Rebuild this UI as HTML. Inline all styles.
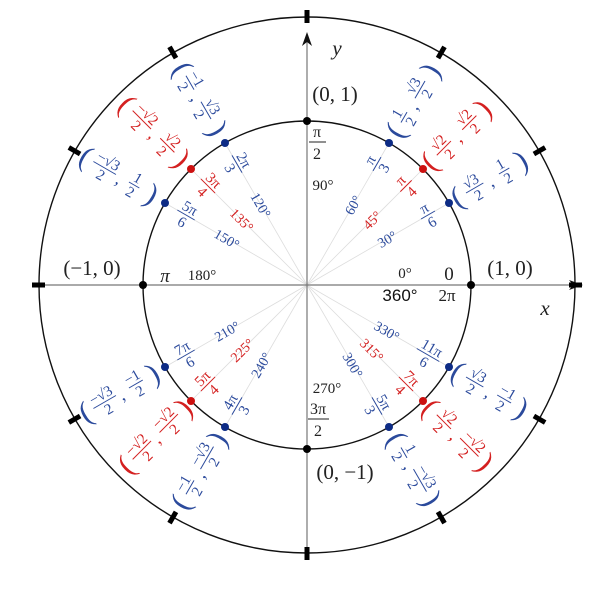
<!DOCTYPE html>
<html><head><meta charset="utf-8"><style>
html,body{margin:0;padding:0;background:#fff}
svg text{font-family:"Liberation Serif",serif;text-anchor:middle}
.b{fill:#2b4a9c}.r{fill:#d42020}.k{fill:#222}
.bl{stroke:#2b4a9c}.rl{stroke:#d42020}
.p{font-size:30px;font-weight:300}
</style></head><body>
<svg width="600" height="600" viewBox="0 0 600 600" xmlns="http://www.w3.org/2000/svg">
<g stroke="#ddd" stroke-width="0.8">
<line x1="307" y1="285" x2="449" y2="203"/><line x1="307" y1="285" x2="423" y2="169"/><line x1="307" y1="285" x2="389" y2="143"/>
<line x1="307" y1="285" x2="225" y2="143"/><line x1="307" y1="285" x2="191" y2="169"/><line x1="307" y1="285" x2="165" y2="203"/>
<line x1="307" y1="285" x2="165" y2="367"/><line x1="307" y1="285" x2="191" y2="401"/><line x1="307" y1="285" x2="225" y2="427"/>
<line x1="307" y1="285" x2="389" y2="427"/><line x1="307" y1="285" x2="423" y2="401"/><line x1="307" y1="285" x2="449" y2="367"/>
</g>
<g stroke="#777" stroke-width="1.2">
<line x1="35" y1="285" x2="580" y2="285"/>
<line x1="307" y1="560" x2="307" y2="35"/>
</g>
<path d="M307 32 L302 46 L307 42 L312 46 Z" fill="#111"/>
<path d="M583 285 L569 280 L573 285 L569 290 Z" fill="#111"/>
<circle cx="307" cy="285" r="164" fill="none" stroke="#111" stroke-width="1.4"/>
<circle cx="307" cy="285" r="268" fill="none" stroke="#111" stroke-width="1.4"/>
<g fill="#000">
<rect x="569" y="282.5" width="13" height="5" transform="rotate(0 307 285)"/>
<rect x="569" y="282.5" width="13" height="5" transform="rotate(-30 307 285)"/>
<rect x="569" y="282.5" width="13" height="5" transform="rotate(-60 307 285)"/>
<rect x="569" y="282.5" width="13" height="5" transform="rotate(-90 307 285)"/>
<rect x="569" y="282.5" width="13" height="5" transform="rotate(-120 307 285)"/>
<rect x="569" y="282.5" width="13" height="5" transform="rotate(-150 307 285)"/>
<rect x="569" y="282.5" width="13" height="5" transform="rotate(-180 307 285)"/>
<rect x="569" y="282.5" width="13" height="5" transform="rotate(-210 307 285)"/>
<rect x="569" y="282.5" width="13" height="5" transform="rotate(-240 307 285)"/>
<rect x="569" y="282.5" width="13" height="5" transform="rotate(-270 307 285)"/>
<rect x="569" y="282.5" width="13" height="5" transform="rotate(-300 307 285)"/>
<rect x="569" y="282.5" width="13" height="5" transform="rotate(-330 307 285)"/>
</g>
<g fill="#000"><circle cx="471" cy="285" r="4"/><circle cx="307" cy="121" r="4"/><circle cx="143" cy="285" r="4"/><circle cx="307" cy="449" r="4"/></g>
<g fill="#0d2b85"><circle cx="449" cy="203" r="4"/><circle cx="389" cy="143" r="4"/><circle cx="225" cy="143" r="4"/><circle cx="165" cy="203" r="4"/><circle cx="165" cy="367" r="4"/><circle cx="225" cy="427" r="4"/><circle cx="389" cy="427" r="4"/><circle cx="449" cy="367" r="4"/></g>
<g fill="#cc1010"><circle cx="423" cy="169" r="4"/><circle cx="191" cy="169" r="4"/><circle cx="191" cy="401" r="4"/><circle cx="423" cy="401" r="4"/></g>

<g class="k" font-size="21">
<text x="337" y="55" font-style="italic">y</text>
<text x="545" y="315" font-style="italic">x</text>
<text x="335" y="101">(0, 1)</text>
<text x="510" y="275">(1, 0)</text>
<text x="92" y="275">(−1, 0)</text>
<text x="345" y="479">(0, −1)</text>
<text x="449" y="280" font-size="19">0</text>
<text x="165" y="282" font-size="19" font-style="italic">π</text>
</g>
<g class="k" font-size="15">
<text x="405" y="278">0°</text>
<text x="202" y="280">180°</text>
<text x="323" y="190">90°</text>
<text x="327" y="393">270°</text>
<text x="317" y="137" font-size="16">π</text><line x1="309" y1="142" x2="326" y2="142" stroke="#222"/><text x="317" y="159" font-size="16">2</text>
<text x="318" y="414" font-size="16">3π</text><line x1="308" y1="419" x2="329" y2="419" stroke="#222"/><text x="318" y="436" font-size="16">2</text>
<text x="447" y="301" font-size="17">2π</text>
</g>
<text x="400" y="301" font-size="17" style="font-family:'Liberation Sans',sans-serif" fill="#111" text-anchor="middle">360°</text>

<g font-size="14">
<text class="b" transform="translate(387,239) rotate(-30)" y="5">30°</text>
<text class="r" transform="translate(372,220) rotate(-45)" y="5">45°</text>
<text class="b" transform="translate(353,205) rotate(-60)" y="5">60°</text>
<text class="b" transform="translate(261,205) rotate(60)" y="5">120°</text>
<text class="r" transform="translate(242,220) rotate(45)" y="5">135°</text>
<text class="b" transform="translate(227,239) rotate(30)" y="5">150°</text>
<text class="b" transform="translate(227,331) rotate(-30)" y="5">210°</text>
<text class="r" transform="translate(242,350) rotate(-45)" y="5">225°</text>
<text class="b" transform="translate(261,365) rotate(-60)" y="5">240°</text>
<text class="b" transform="translate(353,365) rotate(60)" y="5">300°</text>
<text class="r" transform="translate(372,350) rotate(45)" y="5">315°</text>
<text class="b" transform="translate(387,331) rotate(30)" y="5">330°</text>
</g>

<g font-size="15" stroke-width="1">
<g class="b" transform="translate(428,215) rotate(-30)"><text y="-3">π</text><line class="bl" x1="-8" x2="8"/><text y="13">6</text></g>
<g class="r" transform="translate(406,186) rotate(-45)"><text y="-3">π</text><line class="rl" x1="-8" x2="8"/><text y="13">4</text></g>
<g class="b" transform="translate(377,164) rotate(-60)"><text y="-3">π</text><line class="bl" x1="-8" x2="8"/><text y="13">3</text></g>
<g class="b" transform="translate(237,164) rotate(60)"><text y="-3">2π</text><line class="bl" x1="-10" x2="10"/><text y="13">3</text></g>
<g class="r" transform="translate(208,186) rotate(45)"><text y="-3">3π</text><line class="rl" x1="-10" x2="10"/><text y="13">4</text></g>
<g class="b" transform="translate(186,215) rotate(30)"><text y="-3">5π</text><line class="bl" x1="-10" x2="10"/><text y="13">6</text></g>
<g class="b" transform="translate(186,355) rotate(-30)"><text y="-3">7π</text><line class="bl" x1="-10" x2="10"/><text y="13">6</text></g>
<g class="r" transform="translate(208,384) rotate(-45)"><text y="-3">5π</text><line class="rl" x1="-10" x2="10"/><text y="13">4</text></g>
<g class="b" transform="translate(237,406) rotate(-60)"><text y="-3">4π</text><line class="bl" x1="-10" x2="10"/><text y="13">3</text></g>
<g class="b" transform="translate(377,406) rotate(60)"><text y="-3">5π</text><line class="bl" x1="-10" x2="10"/><text y="13">3</text></g>
<g class="r" transform="translate(406,384) rotate(45)"><text y="-3">7π</text><line class="rl" x1="-10" x2="10"/><text y="13">4</text></g>
<g class="b" transform="translate(428,355) rotate(30)"><text y="-3">11π</text><line class="bl" x1="-13" x2="13"/><text y="13">6</text></g>
</g>

<g font-size="15" stroke-width="1">
<g class="b" transform="translate(492,178) rotate(-30)"><text class="p" x="-40" y="9">(</text><text x="-20" y="-3">√3</text><line class="bl" x1="-30" x2="-10"/><text x="-20" y="13">2</text><text x="-3" y="8" font-size="18">,</text><text x="14" y="-3">1</text><line class="bl" x1="8" x2="20"/><text x="14" y="13">2</text><text class="p" x="34" y="9">)</text></g>
<g class="r" transform="translate(458,134) rotate(-45)"><text class="p" x="-40" y="9">(</text><text x="-20" y="-3">√2</text><line class="rl" x1="-30" x2="-10"/><text x="-20" y="13">2</text><text x="-3" y="8" font-size="18">,</text><text x="16" y="-3">√2</text><line class="rl" x1="6" x2="26"/><text x="16" y="13">2</text><text class="p" x="36" y="9">)</text></g>
<g class="b" transform="translate(414,100) rotate(-60)"><text class="p" x="-36" y="9">(</text><text x="-20" y="-3">1</text><line class="bl" x1="-26" x2="-14"/><text x="-20" y="13">2</text><text x="-6" y="8" font-size="18">,</text><text x="12" y="-3">√3</text><line class="bl" x1="2" x2="22"/><text x="12" y="13">2</text><text class="p" x="34" y="9">)</text></g>
<g class="b" transform="translate(200,100) rotate(60)"><text class="p" x="-36" y="9">(</text><text x="-20" y="-3">−1</text><line class="bl" x1="-28" x2="-12"/><text x="-20" y="13">2</text><text x="-4" y="8" font-size="18">,</text><text x="12" y="-3">√3</text><line class="bl" x1="2" x2="22"/><text x="12" y="13">2</text><text class="p" x="34" y="9">)</text></g>
<g class="r" transform="translate(156,134) rotate(45)"><text class="p" x="-42" y="9">(</text><text x="-20" y="-3">−√2</text><line class="rl" x1="-33" x2="-7"/><text x="-20" y="13">2</text><text x="-2" y="8" font-size="18">,</text><text x="16" y="-3">√2</text><line class="rl" x1="6" x2="26"/><text x="16" y="13">2</text><text class="p" x="36" y="9">)</text></g>
<g class="b" transform="translate(122,178) rotate(30)"><text class="p" x="-42" y="9">(</text><text x="-20" y="-3">−√3</text><line class="bl" x1="-33" x2="-7"/><text x="-20" y="13">2</text><text x="-2" y="8" font-size="18">,</text><text x="14" y="-3">1</text><line class="bl" x1="8" x2="20"/><text x="14" y="13">2</text><text class="p" x="34" y="9">)</text></g>
<g class="b" transform="translate(122,392) rotate(-30)"><text class="p" x="-42" y="9">(</text><text x="-20" y="-3">−√3</text><line class="bl" x1="-33" x2="-7"/><text x="-20" y="13">2</text><text x="-2" y="8" font-size="18">,</text><text x="16" y="-3">−1</text><line class="bl" x1="8" x2="24"/><text x="16" y="13">2</text><text class="p" x="36" y="9">)</text></g>
<g class="r" transform="translate(156,436) rotate(-45)"><text class="p" x="-42" y="9">(</text><text x="-20" y="-3">−√2</text><line class="rl" x1="-33" x2="-7"/><text x="-20" y="13">2</text><text x="-2" y="8" font-size="18">,</text><text x="18" y="-3">−√2</text><line class="rl" x1="5" x2="31"/><text x="18" y="13">2</text><text class="p" x="40" y="9">)</text></g>
<g class="b" transform="translate(200,470) rotate(-60)"><text class="p" x="-38" y="9">(</text><text x="-20" y="-3">−1</text><line class="bl" x1="-28" x2="-12"/><text x="-20" y="13">2</text><text x="-4" y="8" font-size="18">,</text><text x="14" y="-3">−√3</text><line class="bl" x1="1" x2="27"/><text x="14" y="13">2</text><text class="p" x="36" y="9">)</text></g>
<g class="b" transform="translate(414,470) rotate(60)"><text class="p" x="-36" y="9">(</text><text x="-20" y="-3">1</text><line class="bl" x1="-26" x2="-14"/><text x="-20" y="13">2</text><text x="-6" y="8" font-size="18">,</text><text x="12" y="-3">−√3</text><line class="bl" x1="-1" x2="25"/><text x="12" y="13">2</text><text class="p" x="34" y="9">)</text></g>
<g class="r" transform="translate(458,436) rotate(45)"><text class="p" x="-40" y="9">(</text><text x="-20" y="-3">√2</text><line class="rl" x1="-30" x2="-10"/><text x="-20" y="13">2</text><text x="-3" y="8" font-size="18">,</text><text x="16" y="-3">−√2</text><line class="rl" x1="3" x2="29"/><text x="16" y="13">2</text><text class="p" x="38" y="9">)</text></g>
<g class="b" transform="translate(492,392) rotate(30)"><text class="p" x="-40" y="9">(</text><text x="-20" y="-3">√3</text><line class="bl" x1="-30" x2="-10"/><text x="-20" y="13">2</text><text x="-3" y="8" font-size="18">,</text><text x="14" y="-3">−1</text><line class="bl" x1="6" x2="22"/><text x="14" y="13">2</text><text class="p" x="34" y="9">)</text></g>
</g>
</svg>
</body></html>
